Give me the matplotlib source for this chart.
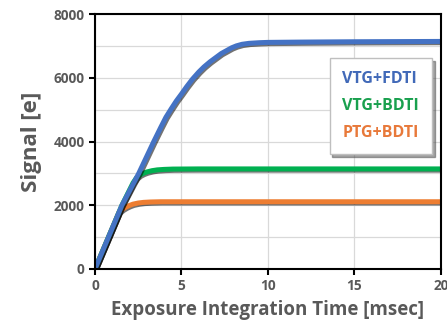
import matplotlib
matplotlib.use("Agg")
import matplotlib.pyplot as plt
import matplotlib.patheffects as pe
from matplotlib.lines import Line2D

plt.rcParams['font.family'] = ['Open Sans', 'DejaVu Sans']

# exposure time [msec] and signal [e]
t_fdti = [0, 1.56, 2.53, 3.4, 3.8, 4.1, 4.4, 4.7, 5.0, 5.3, 5.64, 6.0, 6.3, 6.65, 7.0, 7.3,
          7.6, 7.9, 8.17, 8.5, 8.9, 9.5, 10, 12, 15, 20]
s_fdti = [0, 2000, 3000, 4000, 4440, 4760, 5020, 5270, 5490, 5720, 5960, 6180, 6340, 6500, 6640, 6760,
          6850, 6940, 7000, 7050, 7080, 7100, 7110, 7120, 7130, 7140]

t_vbdti = [0, 1.56, 2.2, 2.4, 2.6, 2.8, 3.0, 3.3, 3.6, 4.0, 4.5, 6, 20]
s_vbdti = [0, 2000, 2700, 2860, 2950, 3005, 3045, 3085, 3110, 3125, 3135, 3140, 3140]

t_pbdti = [0, 1.4, 1.6, 1.8, 2.0, 2.2, 2.5, 2.8, 3.2, 3.8, 20]
s_pbdti = [0, 1790, 1880, 1945, 1995, 2035, 2070, 2090, 2102, 2110, 2110]

labels = ["VTG+FDTI", "VTG+BDTI", "PTG+BDTI"]
colors = ["#4472C4", "#00B050", "#ED7D31"]
text_colors = ["#4169B8", "#19A04E", "#E8793A"]

fig = plt.figure(figsize=(4.47, 3.29), dpi=100)
ax = fig.add_axes([0.2125, 0.1824, 0.774, 0.775])

shadow = [pe.SimpleLineShadow(offset=(0.9, -0.9), shadow_color='k', alpha=0.55), pe.Normal()]
ax.plot(t_pbdti, s_pbdti, color=colors[2], lw=3.6, path_effects=shadow, solid_joinstyle='round')
ax.plot(t_vbdti, s_vbdti, color=colors[1], lw=3.6, path_effects=shadow, solid_joinstyle='round')
ax.plot(t_fdti, s_fdti, color=colors[0], lw=3.6, path_effects=shadow, solid_joinstyle='round')

ax.set_xlim(0, 20)
ax.set_ylim(0, 8000)
ax.set_xticks([0, 5, 10, 15, 20])
ax.set_yticks([0, 2000, 4000, 6000, 8000])
ax.set_yticks(range(1000, 8000, 2000), minor=True)
ax.grid(True, which='both', color='#D9D9D9', lw=0.9)
ax.set_axisbelow(True)
ax.tick_params(axis='both', which='major', direction='out', length=4, width=1.5,
               labelsize=9.8, labelcolor='#595959')
ax.tick_params(axis='y', which='minor', length=0)
for lab in ax.get_xticklabels() + ax.get_yticklabels():
    lab.set_fontweight('bold')
for sp in ax.spines.values():
    sp.set_linewidth(1.5)
    sp.set_color('black')

ax.set_xlabel("Exposure Integration Time [msec]", fontsize=13.5, fontweight='bold',
              color='#595959', labelpad=5)
ax.set_ylabel("Signal [e]", fontsize=16, fontweight='bold', color='#595959', labelpad=8)

handles = [Line2D([], [], lw=0) for _ in labels]
leg = ax.legend(handles, labels, loc='upper right', bbox_to_anchor=(0.974, 0.827),
                borderaxespad=0, handlelength=0, handletextpad=0, labelspacing=0.7,
                borderpad=0.8, fancybox=False, shadow=True, framealpha=1,
                edgecolor='#BFBFBF', prop={'weight': 'bold', 'size': 11.5})
for txt, c in zip(leg.get_texts(), text_colors):
    txt.set_color(c)

fig.savefig("out.png", dpi=100)
